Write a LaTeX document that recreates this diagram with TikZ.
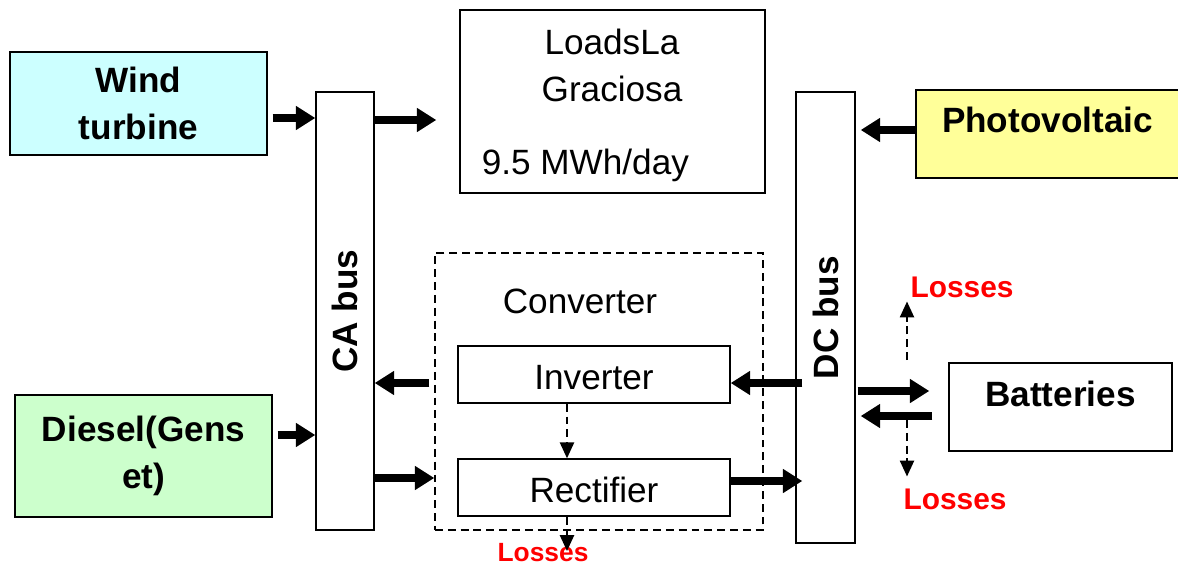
\documentclass[tikz,border=0pt]{standalone}
\usepackage{fontspec}
\setmainfont{Liberation Sans}
\usetikzlibrary{arrows.meta}
\tikzset{
	sourcestyle/.style={rectangle,draw=black,line width=0.8pt,font=\fontsize{20}{26.7}\selectfont\bfseries,align=center},
	plainstyle/.style={rectangle,draw=black,line width=0.8pt,font=\fontsize{20}{26.7}\selectfont},
	busstyle/.style={rectangle,draw=black,line width=0.8pt,rotate=90,font=\fontsize{20}{24}\selectfont\bfseries},
	textstyle/.style={inner sep=0pt,font=\fontsize{20}{26.7}\selectfont},
	lossstyle/.style={inner sep=1pt,text=red,font=\fontsize{17}{20}\selectfont\bfseries},
	flowstyle/.style={line width=4.5pt,-{Triangle[length=11pt,width=13pt]}},
	lossflow/.style={line width=1.1pt,dash pattern=on 4.5pt off 2.8pt,-{Triangle[length=9pt,width=8pt]}}
}
\begin{document}
\begin{tikzpicture}
	\useasboundingbox (0,0) rectangle (23.56,-11.32);
	\node[sourcestyle,fill={rgb,255:red,204;green,255;blue,255},minimum width=5.14cm,minimum height=2.06cm] (wind) at (2.77,-2.07) {Wind\\turbine};
	\node[sourcestyle,fill={rgb,255:red,204;green,255;blue,204},minimum width=5.14cm,minimum height=2.44cm] (diesel) at (2.87,-9.12) {Diesel(Gens\\et)};
	\node[sourcestyle,fill={rgb,255:red,255;green,255;blue,153},minimum width=5.26cm,minimum height=1.76cm,text depth=0.55cm] (pv) at (20.95,-2.68) {Photovoltaic};
	\node[sourcestyle,fill=white,minimum width=4.46cm,minimum height=1.76cm,text depth=0.52cm] (batt) at (21.21,-8.14) {Batteries};
	\node[busstyle,minimum width=8.76cm,minimum height=1.16cm] (cabus) at (6.9,-6.22) {CA bus};
	\node[busstyle,minimum width=9.02cm,minimum height=1.18cm] (dcbus) at (16.51,-6.35) {DC bus};
	\node[rectangle,draw=black,line width=0.8pt,minimum width=6.1cm,minimum height=3.66cm] (loads) at (12.25,-2.03) {};
	\node[textstyle,align=center] (loadsname) at (12.24,-1.3) {LoadsLa\\Graciosa};
	\node[textstyle,anchor=west] (energy) at (9.63,-3.3) {9.5 MWh/day};
	\node[rectangle,draw=black,line width=0.8pt,dash pattern=on 4.5pt off 2.8pt,minimum width=6.56cm,minimum height=5.54cm] (conv) at (11.98,-7.83) {};
	\node[textstyle] (convlabel) at (11.6,-6.02) {Converter};
	\node[plainstyle,minimum width=5.44cm,minimum height=1.14cm,text height=0.62cm] (inv) at (11.88,-7.49) {Inverter};
	\node[plainstyle,minimum width=5.44cm,minimum height=1.14cm,text height=0.62cm] (rect) at (11.88,-9.75) {Rectifier};
	\node[lossstyle] (lossA) at (19.24,-5.74) {Losses};
	\node[lossstyle] (lossB) at (19.1,-9.98) {Losses};
	\node[lossstyle,font=\fontsize{15}{18}\selectfont\bfseries] (lossC) at (10.86,-11.06) {Losses};
	\coordinate (tapA) at (18.14,-7.2);
	\coordinate (tapB) at (18.14,-8.4);
	% power flows
	\draw[flowstyle,shorten <=0.1cm] (wind.east |- 0,-2.36) -- (cabus.north |- 0,-2.36);
	\draw[flowstyle,shorten >=0.46cm] (cabus.south |- 0,-2.4) -- (loads.west |- 0,-2.4);
	\draw[flowstyle,shorten >=0.1cm] (pv.west |- 0,-2.6) -- (dcbus.south |- 0,-2.6);
	\draw[flowstyle,shorten <=0.1cm] (diesel.east |- 0,-8.7) -- (cabus.north |- 0,-8.7);
	\draw[flowstyle,shorten <=0.1cm] (conv.west |- 0,-7.66) -- (cabus.south |- 0,-7.66);
	\draw[flowstyle] (cabus.south |- 0,-9.56) -- (conv.west |- 0,-9.56);
	\draw[flowstyle,shorten <=-0.14cm] (dcbus.north |- 0,-7.66) -- (inv.east |- 0,-7.66);
	\draw[flowstyle,shorten >=-0.14cm] (rect.east |- 0,-9.62) -- (dcbus.north |- 0,-9.62);
	\draw[flowstyle,shorten <=0.04cm,shorten >=0.38cm] (dcbus.south |- 0,-7.82) -- (batt.west |- 0,-7.82);
	\draw[flowstyle,shorten <=0.32cm,shorten >=0.1cm] (batt.west |- 0,-8.32) -- (dcbus.south |- 0,-8.32);
	% losses
	\draw[lossflow] (11.34,0 |- inv.south) -- (11.34,0 |- rect.north);
	\draw[lossflow] (11.34,0 |- rect.south) -- (11.34,-11.02);
	\draw[lossflow,shorten >=0.04cm] (tapA) -- (tapA |- lossA.south);
	\draw[lossflow,shorten >=0.2cm] (tapB) -- (tapB |- lossB.north);
\end{tikzpicture}
\end{document}
